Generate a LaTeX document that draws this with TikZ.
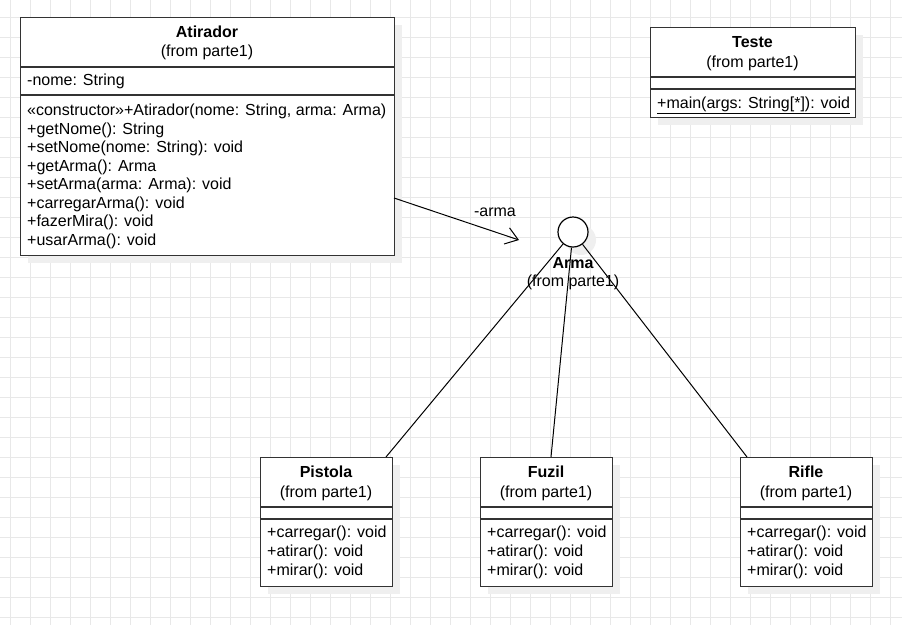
\documentclass[tikz,border=0pt]{standalone}
\usepackage{fontspec}
\setmainfont{Liberation Sans}
\usetikzlibrary{arrows.meta}
\definecolor{gridc}{HTML}{E8E8E8}
\definecolor{shadowc}{HTML}{EFEFEF}
\definecolor{boxc}{HTML}{333333}
\tikzset{
  gridline/.style={draw=gridc, line width=1pt},
  shadowbox/.style={fill=shadowc, draw=none},
  umlbox/.style={draw=boxc, line width=1.2pt, fill=white, rectangle, inner sep=0pt, anchor=north west},
  divider/.style={draw=boxc, line width=1.2pt},
  txt/.style={inner sep=0pt, font=\fontsize{16}{18.5}\selectfont, text height=11.5pt, text depth=3.5pt, yshift=-1.5pt},
  ttl/.style={txt, font=\fontsize{16}{18.5}\selectfont\bfseries},
  mem/.style={txt, anchor=west},
  edge/.style={draw=black, line width=1pt},
}
\begin{document}
\begin{tikzpicture}[x=1pt,y=-1pt]
\useasboundingbox (0,0) rectangle (902,625);
\fill[white] (0,0) rectangle (902,625);
% grid
\foreach \gx in {10,30,...,890} {\draw[gridline] (\gx,0) -- (\gx,625);}
\foreach \gy in {17,37,...,617} {\draw[gridline] (0,\gy) -- (902,\gy);}
% shadows
\fill[shadowbox] (28,25) rectangle (402,263);
\fill[shadowbox] (658,35) rectangle (863,125);
\fill[shadowbox] (268,465) rectangle (400,594);
\fill[shadowbox] (488,465) rectangle (620,594);
\fill[shadowbox] (748,465) rectangle (880,594);
\fill[shadowbox] (581,240) circle (15);

% Atirador
\node[umlbox, minimum width=374pt, minimum height=238pt] (atirador) at (20,17) {};
\draw[divider] (20,67) -- (394,67);
\draw[divider] (20,95) -- (394,95);
\node[ttl] (atiradorT) at (207,32) {Atirador};
\node[txt] (atiradorF) at (207,51) {(from parte1)};
\node[mem] (atA1) at (27,80) {-nome: String};
\node[mem] (atM1) at (27,110) {«constructor»+Atirador(nome: String, arma: Arma)};
\node[mem] (atM2) at (27,128.5) {+getNome(): String};
\node[mem] (atM3) at (27,147) {+setNome(nome: String): void};
\node[mem] (atM4) at (27,165.5) {+getArma(): Arma};
\node[mem] (atM5) at (27,184) {+setArma(arma: Arma): void};
\node[mem] (atM6) at (27,202.5) {+carregarArma(): void};
\node[mem] (atM7) at (27,221) {+fazerMira(): void};
\node[mem] (atM8) at (27,239.5) {+usarArma(): void};

% Teste
\node[umlbox, minimum width=205pt, minimum height=90pt] (teste) at (650,27) {};
\draw[divider] (650,77) -- (855,77);
\draw[divider] (650,89) -- (855,89);
\node[ttl] (testeT) at (752.5,42) {Teste};
\node[txt] (testeF) at (752.5,62) {(from parte1)};
\node[mem] (teM1) at (657,103) {\underline{+main(args: String[*]): void}};

% Pistola
\node[umlbox, minimum width=132pt, minimum height=129pt] (pistola) at (260,457) {};
\draw[divider] (260,507) -- (392,507);
\draw[divider] (260,519) -- (392,519);
\node[ttl] (pistolaT) at (326,472) {Pistola};
\node[txt] (pistolaF) at (326,492) {(from parte1)};
\node[mem] (piM1) at (267,532) {+carregar(): void};
\node[mem] (piM2) at (267,551) {+atirar(): void};
\node[mem] (piM3) at (267,570) {+mirar(): void};

% Fuzil
\node[umlbox, minimum width=132pt, minimum height=129pt] (fuzil) at (480,457) {};
\draw[divider] (480,507) -- (612,507);
\draw[divider] (480,519) -- (612,519);
\node[ttl] (fuzilT) at (546,472) {Fuzil};
\node[txt] (fuzilF) at (546,492) {(from parte1)};
\node[mem] (fuM1) at (487,532) {+carregar(): void};
\node[mem] (fuM2) at (487,551) {+atirar(): void};
\node[mem] (fuM3) at (487,570) {+mirar(): void};

% Rifle
\node[umlbox, minimum width=132pt, minimum height=129pt] (rifle) at (740,457) {};
\draw[divider] (740,507) -- (872,507);
\draw[divider] (740,519) -- (872,519);
\node[ttl] (rifleT) at (806,472) {Rifle};
\node[txt] (rifleF) at (806,492) {(from parte1)};
\node[mem] (riM1) at (747,532) {+carregar(): void};
\node[mem] (riM2) at (747,551) {+atirar(): void};
\node[mem] (riM3) at (747,570) {+mirar(): void};

% Arma interface
\node[circle, draw=black, line width=1.2pt, fill=white, minimum size=30pt, inner sep=0pt] (arma) at (573,232) {};

% connectors
\coordinate (aStart) at (394,198);
\coordinate (aEnd) at (519,240);
\draw[edge, -{Straight Barb[length=12pt,width=17pt]}] (aStart) -- (aEnd);
\node[txt] (armaLbl) at (495,211) {-arma};

\coordinate (pTop) at (386,457);
\coordinate (fTop) at (551,457);
\coordinate (rTop) at (747,457);
\draw[edge] (arma) -- (pTop);
\draw[edge] (arma) -- (fTop);
\draw[edge] (arma) -- (rTop);

\node[ttl] (armaT) at (573,263) {Arma};
\node[txt] (armaF) at (573,281) {(from parte1)};
\end{tikzpicture}
\end{document}
